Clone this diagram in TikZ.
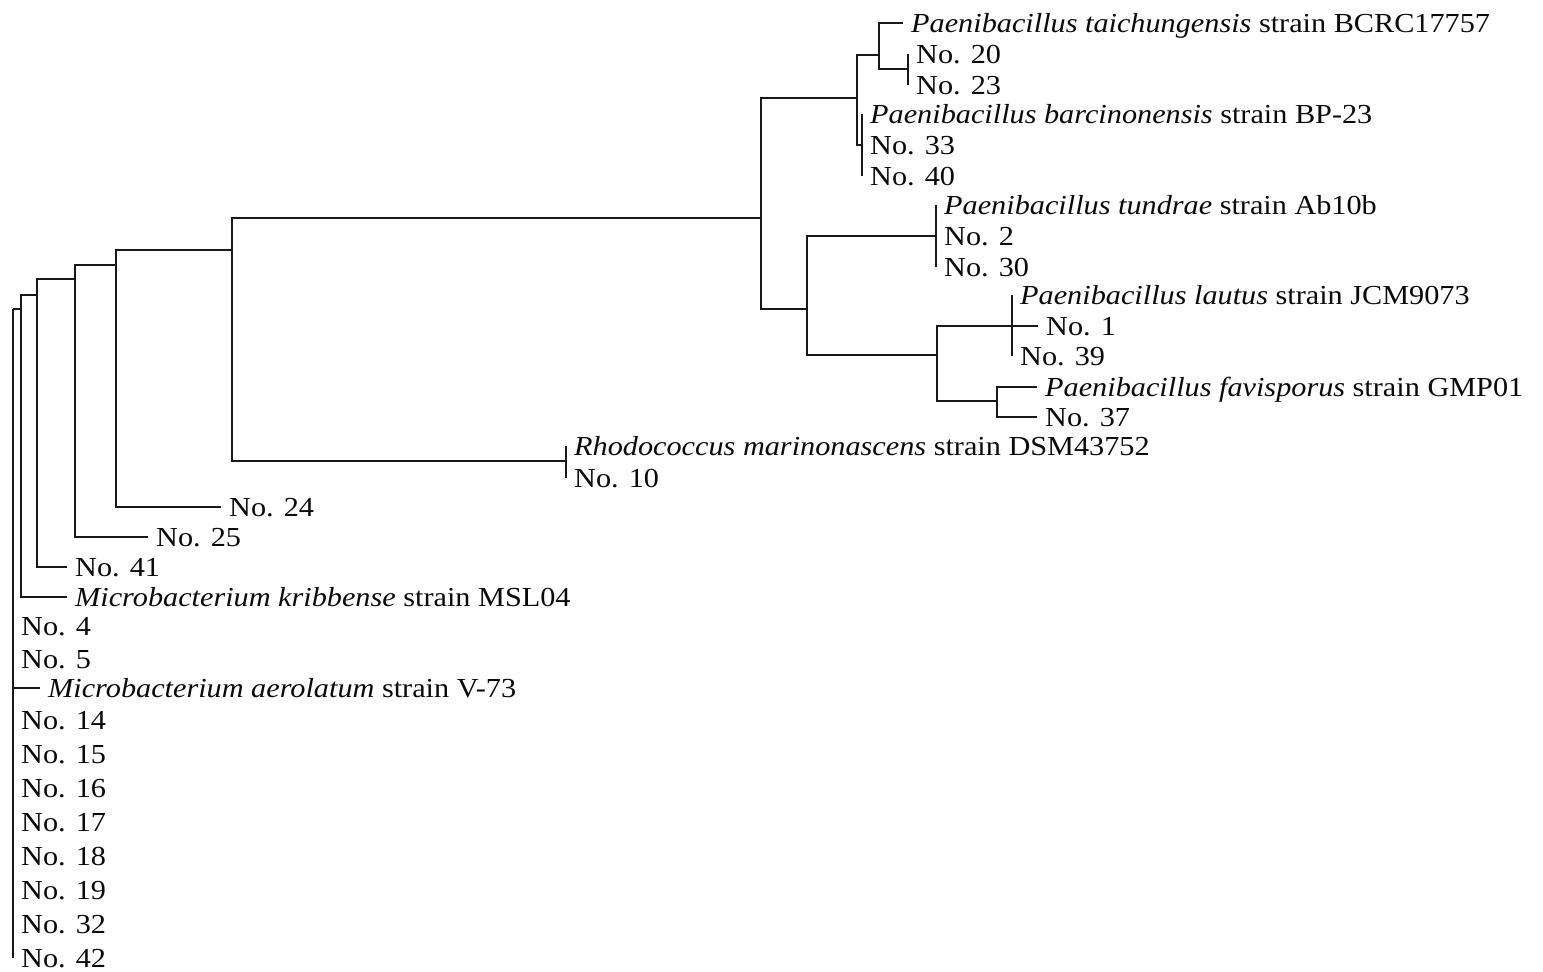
\documentclass[tikz,border=0pt]{standalone}
\usepackage{fontspec}
\setmainfont{Liberation Serif}[FakeStretch=1.1]
\usepackage{tikz}
\definecolor{RamaNegra}{RGB}{25, 25, 25}
\definecolor{TextoNegro}{RGB}{10, 10, 10}
\tikzset{
  rama/.style={RamaNegra, line width=1.6pt},
  hoja/.style={anchor=west, inner xsep=8pt, inner ysep=0pt, text height=18pt, text depth=0pt,
    TextoNegro, font=\fontsize{27.5}{30}\selectfont},
}

\begin{document}
\begin{tikzpicture}[x=1pt, y=-1pt]
    \useasboundingbox (0,0) rectangle (1543,972);

    % Nodos internos
    \coordinate (raiz) at (13,309);
    \coordinate (n21) at (21,309);
    \coordinate (n37) at (37,295);
    \coordinate (n75) at (75,279);
    \coordinate (n116) at (116,265);
    \coordinate (n232) at (232,250);
    \coordinate (n761) at (761,218);
    \coordinate (n857) at (857,98);
    \coordinate (n879) at (879,55);
    \coordinate (n908) at (908,69);
    \coordinate (n862) at (862,145);
    \coordinate (n807) at (807,309);
    \coordinate (n936) at (936,236);
    \coordinate (n937) at (937,355);
    \coordinate (n1012) at (1012,326);
    \coordinate (n997) at (997,401);
    \coordinate (n566) at (566,461);

    % Paenibacillus
    \node[hoja] (ptai) at (903,23) {\textit{Paenibacillus taichungensis} strain BCRC17757};
    \node[hoja] (no20) at (908,54) {No. 20};
    \node[hoja] (no23) at (908,85) {No. 23};
    \node[hoja] (pbar) at (862,114) {\textit{Paenibacillus barcinonensis} strain BP-23};
    \node[hoja] (no33) at (862,145) {No. 33};
    \node[hoja] (no40) at (862,176) {No. 40};
    \node[hoja] (ptun) at (936,205) {\textit{Paenibacillus tundrae} strain Ab10b};
    \node[hoja] (no2) at (936,236) {No. 2};
    \node[hoja] (no30) at (936,267) {No. 30};
    \node[hoja] (plau) at (1012,295) {\textit{Paenibacillus lautus} strain JCM9073};
    \node[hoja] (no1) at (1038,326) {No. 1};
    \node[hoja] (no39) at (1012,356) {No. 39};
    \node[hoja] (pfav) at (1037,387) {\textit{Paenibacillus favisporus} strain GMP01};
    \node[hoja] (no37) at (1037,417) {No. 37};

    % Rhodococcus
    \node[hoja] (rmar) at (566,446) {\textit{Rhodococcus marinonascens} strain DSM43752};
    \node[hoja] (no10) at (566,478) {No. 10};

    % Ramas sueltas
    \node[hoja] (no24) at (221,507) {No. 24};
    \node[hoja] (no25) at (148,537) {No. 25};
    \node[hoja] (no41) at (67,567) {No. 41};
    \node[hoja] (mkri) at (67,597) {\textit{Microbacterium kribbense} strain MSL04};

    % Microbacterium
    \node[hoja] (no4) at (13,626) {No. 4};
    \node[hoja] (no5) at (13,659) {No. 5};
    \node[hoja] (maer) at (40,688) {\textit{Microbacterium aerolatum} strain V-73};
    \node[hoja] (no14) at (13,720) {No. 14};
    \node[hoja] (no15) at (13,754) {No. 15};
    \node[hoja] (no16) at (13,788) {No. 16};
    \node[hoja] (no17) at (13,822) {No. 17};
    \node[hoja] (no18) at (13,856) {No. 18};
    \node[hoja] (no19) at (13,890) {No. 19};
    \node[hoja] (no32) at (13,924) {No. 32};
    \node[hoja] (no42) at (13,958) {No. 42};

    % Ramas de la raiz
    \draw[rama] (raiz) |- (n21);
    \draw[rama] (raiz) |- (no4.west);
    \draw[rama] (raiz) |- (no5.west);
    \draw[rama] (raiz) |- (maer.west);
    \draw[rama] (raiz) |- (no14.west);
    \draw[rama] (raiz) |- (no15.west);
    \draw[rama] (raiz) |- (no16.west);
    \draw[rama] (raiz) |- (no17.west);
    \draw[rama] (raiz) |- (no18.west);
    \draw[rama] (raiz) |- (no19.west);
    \draw[rama] (raiz) |- (no32.west);
    \draw[rama] (raiz) |- (no42.west);

    % Escalera izquierda
    \draw[rama] (n21) |- (n37);
    \draw[rama] (n21) |- (mkri.west);
    \draw[rama] (n37) |- (n75);
    \draw[rama] (n37) |- (no41.west);
    \draw[rama] (n75) |- (n116);
    \draw[rama] (n75) |- (no25.west);
    \draw[rama] (n116) |- (n232);
    \draw[rama] (n116) |- (no24.west);
    \draw[rama] (n232) |- (n761);
    \draw[rama] (n232) |- (n566);
    \draw[rama] (n566) |- (rmar.west);
    \draw[rama] (n566) |- (no10.west);

    % Clado Paenibacillus
    \draw[rama] (n761) |- (n857);
    \draw[rama] (n761) |- (n807);
    \draw[rama] (n857) |- (n879);
    \draw[rama] (n857) |- (n862);
    \draw[rama] (n879) |- (ptai.west);
    \draw[rama] (n879) |- (n908);
    \draw[rama] (n908) |- (no20.west);
    \draw[rama] (n908) |- (no23.west);
    \draw[rama] (n862) |- (pbar.west);
    \draw[rama] (n862) |- (no33.west);
    \draw[rama] (n862) |- (no40.west);
    \draw[rama] (n807) |- (n936);
    \draw[rama] (n807) |- (n937);
    \draw[rama] (n936) |- (ptun.west);
    \draw[rama] (n936) |- (no2.west);
    \draw[rama] (n936) |- (no30.west);
    \draw[rama] (n937) |- (n1012);
    \draw[rama] (n937) |- (n997);
    \draw[rama] (n1012) |- (plau.west);
    \draw[rama] (n1012) |- (no1.west);
    \draw[rama] (n1012) |- (no39.west);
    \draw[rama] (n997) |- (pfav.west);
    \draw[rama] (n997) |- (no37.west);
\end{tikzpicture}
\end{document}
